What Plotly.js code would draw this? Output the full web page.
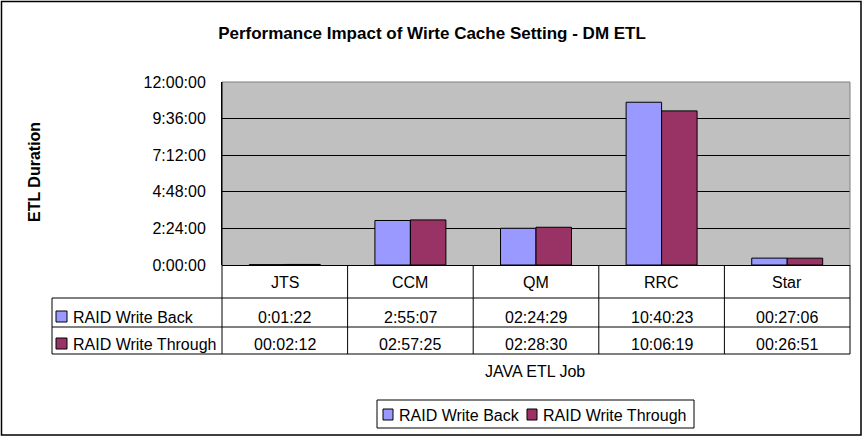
<!DOCTYPE html>
<html>
<head>
<meta charset="utf-8">
<script src="https://cdn.plot.ly/plotly-3.0.1.min.js"></script>
<style>
  html, body { margin: 0; padding: 0; background: #ffffff; }
  #chart { width: 865px; height: 438px; }
</style>
</head>
<body>
<div id="chart"></div>
<script>
// ---- data ----
const categories = ["JTS", "CCM", "QM", "RRC", "Star"];
const writeBackText = ["0:01:22", "2:55:07", "02:24:29", "10:40:23", "00:27:06"];
const writeThroughText = ["00:02:12", "02:57:25", "02:28:30", "10:06:19", "00:26:51"];
const seriesNames = ["RAID Write Back", "RAID Write Through"];
const tickLabels = ["0:00:00", "2:24:00", "4:48:00", "7:12:00", "9:36:00", "12:00:00"];
const tickSeconds = [0, 8640, 17280, 25920, 34560, 43200];

function toSeconds(s) {
  const p = s.split(":").map(Number);
  return p[0] * 3600 + p[1] * 60 + p[2];
}
const writeBack = writeBackText.map(toSeconds);
const writeThrough = writeThroughText.map(toSeconds);

const colors = ["#9999FF", "#993366"];
const FONT = "Liberation Sans, Arial, sans-serif";

// ---- layout geometry (pixels) ----
const W = 865, H = 438;
const L = 222, R = 850, T = 82, B = 265;
const PW = R - L, PH = B - T;
const px = x => (x - L) / PW;
const py = y => (B - y) / PH;

const tableLeft = 52, row1 = 298, row2 = 327, tableBottom = 354;

const shapes = [];
function line(x0, y0, x1, y1, color, width) {
  shapes.push({type: "line", xref: "paper", yref: "paper",
    x0: px(x0), y0: py(y0), x1: px(x1), y1: py(y1),
    line: {color: color || "#000", width: width || 1}});
}
function box(x0, y0, x1, y1, fill, lw) {
  shapes.push({type: "rect", xref: "paper", yref: "paper",
    x0: px(x0), x1: px(x1), y0: py(y0), y1: py(y1),
    fillcolor: fill, line: {color: "#000", width: lw || 1}});
}
// plot-area border (gray top/right)
line(L, T, R, T, "#808080", 1);
line(R, T, R, B, "#808080", 1);
// table lines
line(L, T, L, tableBottom);
line(R, B, R, tableBottom);
line(tableLeft, row1, R, row1);
line(tableLeft, row2, R, row2);
line(tableLeft, tableBottom, R, tableBottom);
line(tableLeft, row1, tableLeft, tableBottom);
for (let i = 1; i < categories.length; i++) {
  const xx = L + PW * i / categories.length;
  line(xx, B, xx, tableBottom);
}
// legend keys inside table
box(56, 311, 67, 322, colors[0]);
box(56, 338, 67, 349, colors[1]);
// bottom legend
box(377, 400, 694, 428, "rgba(0,0,0,0)");
box(383, 409, 393, 420, colors[0]);
box(527, 409, 537, 420, colors[1]);
// outer chart border
box(1.5, 1.5, 861, 435, "rgba(0,0,0,0)", 1.5);

const annotations = [];
const tf = {family: FONT, size: 16, color: "#000"};
function label(xref, x, y, text, anchor) {
  annotations.push({xref: xref, yref: "paper", x: x, y: py(y), text: text,
    showarrow: false, font: tf, xanchor: anchor || "center", yanchor: "middle"});
}
categories.forEach((c, i) => {
  label("x", c, 282, c);
  label("x", c, 317, writeBackText[i]);
  label("x", c, 344.5, writeThroughText[i]);
});
label("paper", px(71), 317, seriesNames[0], "left");
label("paper", px(71), 344.5, seriesNames[1], "left");
label("paper", px(535), 371, "JAVA ETL Job");
label("paper", px(397), 415, seriesNames[0], "left");
label("paper", px(541), 415, seriesNames[1], "left");
annotations.push({xref: "paper", yref: "paper", x: px(34), y: py(172),
  text: "<b>ETL Duration</b>", textangle: -90, showarrow: false,
  font: {family: FONT, size: 16, color: "#000"}, xanchor: "center", yanchor: "middle"});

const traces = [writeBack, writeThrough].map((vals, i) => ({
  type: "bar", x: categories, y: vals, name: seriesNames[i],
  marker: {color: colors[i], line: {color: "#000", width: 1}},
  hoverinfo: "skip"
}));

const layout = {
  width: W, height: H,
  margin: {l: L, r: W - R, t: T, b: H - B, pad: 0},
  paper_bgcolor: "#ffffff",
  plot_bgcolor: "#C0C0C0",
  font: {family: FONT, size: 16, color: "#000"},
  title: {text: "<b>Performance Impact of Wirte Cache Setting - DM ETL</b>",
    font: {family: FONT, size: 17, color: "#000"},
    x: 432 / W, xanchor: "center", xref: "container", y: 1 - 33 / H, yanchor: "middle", yref: "container"},
  barmode: "group",
  bargap: 0.435,
  bargroupgap: 0,
  showlegend: false,
  xaxis: {type: "category", showticklabels: false, ticks: "", showgrid: false,
    showline: false, zeroline: false, fixedrange: true},
  yaxis: {range: [0, 43200], tickvals: tickSeconds, ticktext: tickLabels,
    showgrid: true, gridcolor: "#000", gridwidth: 1, zeroline: true, zerolinecolor: "#000",
    showline: true, linecolor: "#000", linewidth: 1, ticks: "", ticklabelstandoff: 12,
    tickfont: {family: FONT, size: 16, color: "#000"},
    fixedrange: true},
  shapes: shapes,
  annotations: annotations
};

Plotly.newPlot("chart", traces, layout, {displayModeBar: false, staticPlot: true});
</script>
</body>
</html>
